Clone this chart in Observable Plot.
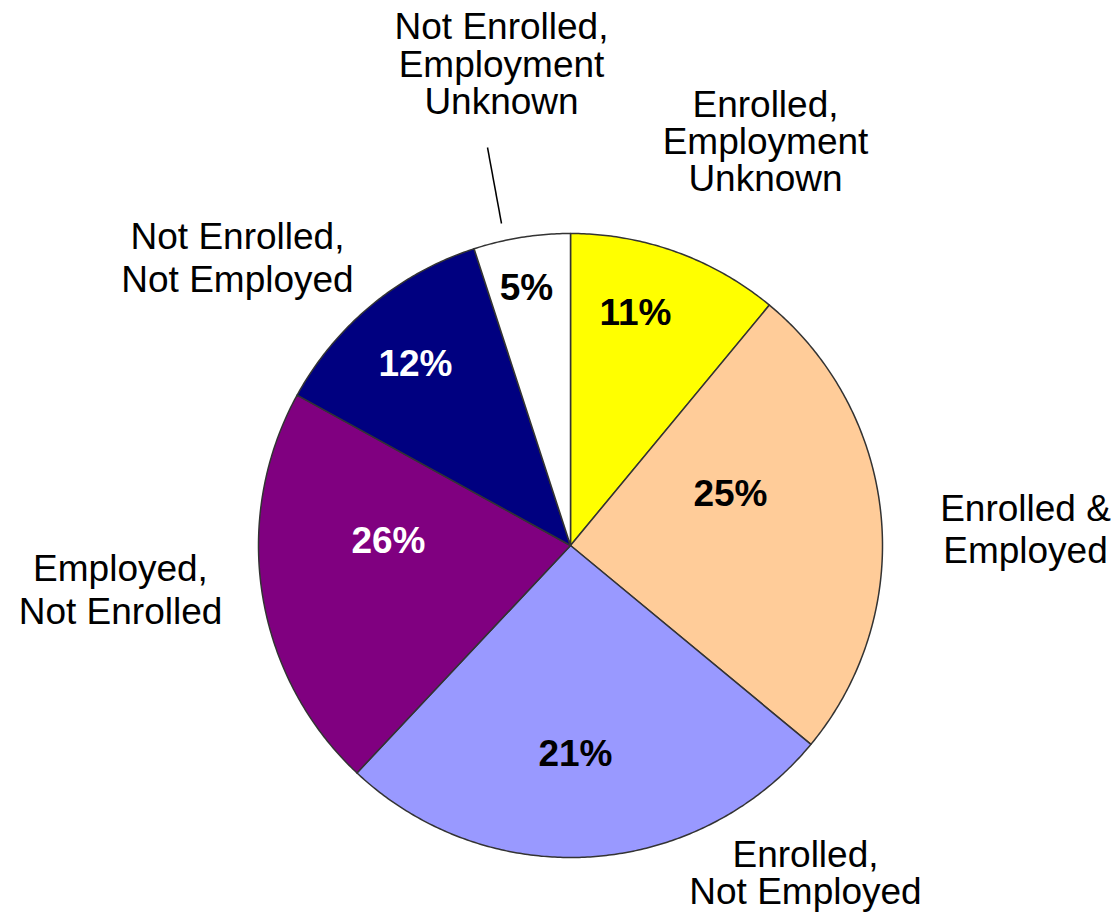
<!DOCTYPE html>
<html>
<head>
<meta charset="utf-8">
<script src="https://cdn.jsdelivr.net/npm/d3@7"></script>
<script src="https://cdn.jsdelivr.net/npm/@observablehq/plot@0.6"></script>
<style>
  html, body { margin: 0; padding: 0; background: #fff; }
  #chart svg { display: block; }
</style>
</head>
<body>
<div id="chart"></div>
<script>
// ---- data (clockwise from 12 o'clock) ----
const categories = [
  "Enrolled, Employment Unknown",
  "Enrolled & Employed",
  "Enrolled, Not Employed",
  "Employed, Not Enrolled",
  "Not Enrolled, Not Employed",
  "Not Enrolled, Employment Unknown"
];
// slice sizes as drawn in the picture
const shares = [11, 25, 26, 21, 12, 5];
// percentage texts as printed on the slices
const pctLabels = ["11%", "25%", "21%", "26%", "12%", "5%"];
const outerLabels = [
  "Enrolled,\nEmployment\nUnknown",
  "Enrolled &\nEmployed",
  "Enrolled,\nNot Employed",
  "Employed,\nNot Enrolled",
  "Not Enrolled,\nNot Employed",
  "Not Enrolled,\nEmployment\nUnknown"
];

// ---- styles & layout ----
const colors = ["#ffff00", "#ffcc99", "#9999ff", "#800080", "#000080", "#ffffff"];
const pctColors = ["#000", "#000", "#000", "#fff", "#fff", "#000"];
const W = 1114, H = 923;
const CX = 570, CY = 545, R = 312;           // pie centre / radius in px
// percentage label offsets from centre (px)
const pctPos = [[65, -232], [160, -51], [5, 209], [-182, -4], [-155, -181], [-44, -257]];
// outer label: [dx of centre, dy of first line, line spacing] (px)
const outerPos = [
  [195, -440, 37],
  [455, -36, 42],
  [235, 310, 37],
  [-450, 24, 43],
  [-333, -308, 43],
  [-69, -518, 37.5]
];
const leader = {x1: -83, y1: -398, x2: -69, y2: -322};
const FONT = "'Liberation Sans', Arial, sans-serif";

// ---- build geometry from the data ----
const arcs = d3.pie().sort(null).value(d => d)(shares);
const polyRows = [];
arcs.forEach((a, i) => {
  polyRows.push({slice: i, x: 0, y: 0});
  const n = Math.max(8, Math.ceil((a.endAngle - a.startAngle) / (Math.PI / 360)));
  for (let k = 0; k <= n; k++) {
    const t = a.startAngle + (a.endAngle - a.startAngle) * k / n;
    polyRows.push({slice: i, x: Math.sin(t), y: -Math.cos(t)});
  }
});

const pctRows = pctLabels.map((t, i) => ({
  text: t, x: pctPos[i][0] / R, y: pctPos[i][1] / R, fill: pctColors[i]
}));

const outerRows = [];
outerLabels.forEach((lab, i) => {
  lab.split("\n").forEach((line, j) => {
    outerRows.push({
      text: line,
      x: outerPos[i][0] / R,
      y: (outerPos[i][1] + j * outerPos[i][2]) / R
    });
  });
});

const chart = Plot.plot({
  width: W,
  height: H,
  margin: 0,
  style: {background: "#fff", fontFamily: FONT},
  x: {domain: [-1, 1], range: [CX - R, CX + R], axis: null},
  y: {domain: [-1, 1], range: [CY - R, CY + R], axis: null},
  color: {type: "identity"},
  marks: [
    Plot.line(polyRows, {
      x: "x", y: "y", z: "slice",
      fill: d => colors[d.slice],
      stroke: "#333",
      strokeWidth: 1.5,
      strokeLinejoin: "round",
      curve: "linear-closed"
    }),
    Plot.text(pctRows, {
      x: "x", y: "y", text: "text", fill: "fill",
      fontSize: 37, fontWeight: "bold", fontFamily: FONT,
      textAnchor: "middle", lineAnchor: "middle"
    }),
    Plot.text(outerRows, {
      x: "x", y: "y", text: "text", fill: "#000",
      fontSize: 37, fontFamily: FONT,
      textAnchor: "middle", lineAnchor: "middle"
    }),
    Plot.link([leader], {
      x1: d => d.x1 / R, y1: d => d.y1 / R,
      x2: d => d.x2 / R, y2: d => d.y2 / R,
      stroke: "#000", strokeWidth: 1.5
    })
  ]
});
document.getElementById("chart").appendChild(chart);
</script>
</body>
</html>
